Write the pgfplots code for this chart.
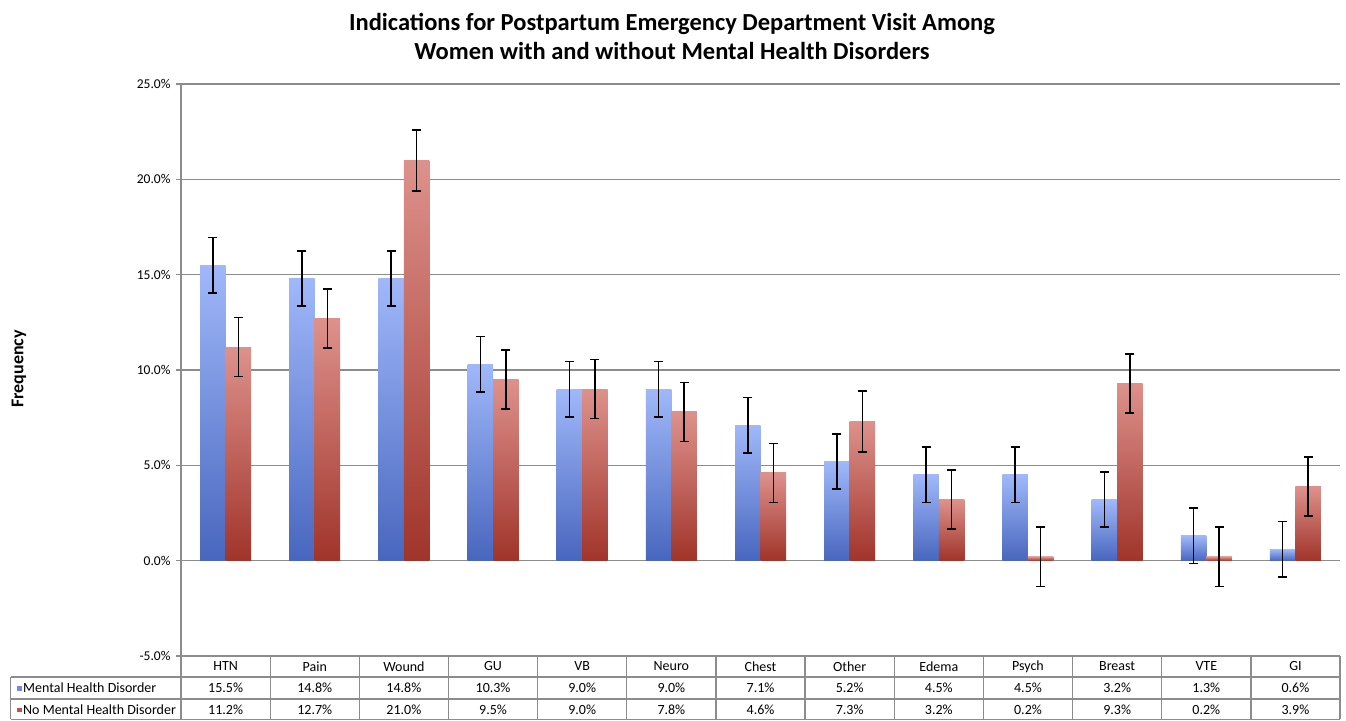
\documentclass[border=0pt]{standalone}
\usepackage{fontspec}
\setmainfont{Carlito}
\usepackage{pgfplots}
\usepackage{pgfplotstable}
\pgfplotsset{compat=1.18}
\definecolor{bluetop}{RGB}{160,184,250}
\definecolor{bluebot}{RGB}{72,102,190}
\definecolor{redtop}{RGB}{222,145,140}
\definecolor{redbot}{RGB}{160,52,42}
\definecolor{gridgray}{RGB}{140,140,140}
\definecolor{keyblue}{RGB}{110,140,225}
\definecolor{keyred}{RGB}{200,80,75}

\pgfplotstableread{
x mhd emhd nomhd enomhd
0 15.5 1.45 11.2 1.55
1 14.8 1.45 12.7 1.55
2 14.8 1.45 21.0 1.60
3 10.3 1.45 9.5 1.55
4 9.0 1.45 9.0 1.55
5 9.0 1.45 7.8 1.55
6 7.1 1.45 4.6 1.55
7 5.2 1.45 7.3 1.60
8 4.5 1.45 3.2 1.55
9 4.5 1.45 0.2 1.55
10 3.2 1.45 9.3 1.55
11 1.3 1.45 0.2 1.55
12 0.6 1.45 3.9 1.55
}\data

\pgfplotsset{
  errstyle/.style={draw=none, mark=none, forget plot,
    error bars/.cd, y dir=both, y explicit,
    error bar style={draw=black, line width=1.5bp},
    error mark=none},
  capstyle/.style={only marks, forget plot, mark=-, mark size=4.5bp,
    mark options={draw=black, line width=1.6bp}}
}

\begin{document}
\begin{tikzpicture}[x=1bp,y=1bp]
\useasboundingbox (0,0) rectangle (1346,720);
\begin{axis}[
 at={(181bp,64bp)}, anchor=south west,
 scale only axis, width=1159bp, height=572bp,
 xmin=-0.5, xmax=12.5, ymin=-5, ymax=25,
 axis x line=none, axis y line*=left,
 axis line style={gridgray, line width=1.3bp},
 ytick={-5,0,5,10,15,20,25},
 ymajorgrids, grid style={gridgray, line width=1.3bp},
 tick align=outside, major tick length=5bp,
 tick style={gridgray, line width=1.3bp},
 yticklabel={\pgfmathprintnumber[fixed,fixed zerofill,precision=1,assume math mode=true]{\tick}\%},
 yticklabel style={font=\fontsize{13.5bp}{16bp}\selectfont, xshift=-2bp},
 clip=false,
 bar width=25.5bp,
]
\pgfplotsinvokeforeach{0,...,12}{
\addplot[ybar, bar shift=-12.75bp, draw=none, top color=bluetop, bottom color=bluebot,
  forget plot, restrict x to domain=#1:#1]
  table[x=x, y=mhd] {\data};
\addplot[ybar, bar shift=12.75bp, draw=none, top color=redtop, bottom color=redbot,
  forget plot, restrict x to domain=#1:#1]
  table[x=x, y=nomhd] {\data};
}
\addplot[errstyle] table[x expr=\thisrow{x}-0.143, y=mhd, y error=emhd] {\data};
\addplot[errstyle] table[x expr=\thisrow{x}+0.143, y=nomhd, y error=enomhd] {\data};
\addplot[capstyle] table[x expr=\thisrow{x}-0.143, y expr=\thisrow{mhd}+\thisrow{emhd}] {\data};
\addplot[capstyle] table[x expr=\thisrow{x}-0.143, y expr=\thisrow{mhd}-\thisrow{emhd}] {\data};
\addplot[capstyle] table[x expr=\thisrow{x}+0.143, y expr=\thisrow{nomhd}+\thisrow{enomhd}] {\data};
\addplot[capstyle] table[x expr=\thisrow{x}+0.143, y expr=\thisrow{nomhd}-\thisrow{enomhd}] {\data};
\end{axis}
% title and y label
\node[font=\fontsize{24.5bp}{29bp}\selectfont\bfseries, align=center] at (672,684)
  {Indications for Postpartum Emergency Department Visit Among\\Women with and without Mental Health Disorders};
\node[font=\fontsize{18bp}{21bp}\selectfont\bfseries, rotate=90] at (19,351) {Frequency};
% data table
\begin{scope}[gridgray, line width=1.3bp]
\draw (181,64) -- (181,0.7);
\draw (10.7,43) -- (1340,43);
\draw (10.7,21) -- (1340,21);
\draw (10.7,0.7) -- (1340,0.7);
\draw (10.7,43) -- (10.7,0.7);
\foreach \i in {1,...,13} {\draw ({181+\i*89.154},64) -- ({181+\i*89.154},0.7);}
\end{scope}
\def\fs{\fontsize{14bp}{17bp}\selectfont}
\foreach \n [count=\i from 0] in {HTN,Pain,Wound,GU,VB,Neuro,Chest,Other,Edema,Psych,Breast,VTE,GI}
  {\node[font=\fs] at ({225.6+\i*89.154},53.5) {\n};}
\foreach \n [count=\i from 0] in {15.5,14.8,14.8,10.3,9.0,9.0,7.1,5.2,4.5,4.5,3.2,1.3,0.6}
  {\node[font=\fs] at ({225.6+\i*89.154},32) {\n\%};}
\foreach \n [count=\i from 0] in {11.2,12.7,21.0,9.5,9.0,7.8,4.6,7.3,3.2,0.2,9.3,0.2,3.9}
  {\node[font=\fs] at ({225.6+\i*89.154},10.5) {\n\%};}
\fill[keyblue] (16.5,29.5) rectangle (21.5,34);
\fill[keyred] (16.5,8) rectangle (21.5,12.5);
\node[font=\fs, anchor=west, inner sep=0pt] at (23,32) {Mental Health Disorder};
\node[font=\fs, anchor=west, inner sep=0pt] at (23,10.5) {No Mental Health Disorder};
\end{tikzpicture}
\end{document}
